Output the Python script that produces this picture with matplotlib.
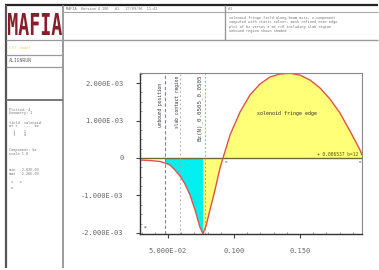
import matplotlib
matplotlib.use("Agg")
import matplotlib.pyplot as plt
from matplotlib.textpath import TextPath
from matplotlib.patches import PathPatch
from matplotlib.font_manager import FontProperties
from matplotlib.transforms import Affine2D
from matplotlib.ticker import MultipleLocator, FixedLocator

# curve (position, field value)
xs = [0.0288, 0.0364, 0.0440, 0.0477, 0.0515, 0.0553, 0.0591, 0.0629, 0.0667,
      0.0705, 0.0742, 0.0765, 0.0788, 0.0818, 0.0856, 0.0894, 0.0917, 0.0970,
      0.1046, 0.1121, 0.1197, 0.1273, 0.1349, 0.1424, 0.1500, 0.1576, 0.1652,
      0.1727, 0.1803, 0.1879, 0.1955, 0.1970]
ys = [-0.053e-3, -0.067e-3, -0.093e-3, -0.133e-3, -0.187e-3, -0.32e-3, -0.48e-3,
      -0.693e-3, -0.987e-3, -1.387e-3, -1.84e-3, -2.02e-3, -1.81e-3, -1.387e-3,
      -0.853e-3, -0.267e-3, 0.0, 0.613e-3, 1.227e-3, 1.68e-3, 1.973e-3, 2.16e-3,
      2.24e-3, 2.26e-3, 2.21e-3, 2.08e-3, 1.867e-3, 1.573e-3, 1.2e-3, 0.72e-3,
      0.213e-3, 0.08e-3]

unbound_pos = 0.0477
min_pos = 0.0765
marker_lines = [0.0591, 0.0780]

xticks = [0.05, 0.10, 0.15]
xtick_labels = ["5.000E-02", "0.100", "0.150"]
yticks = [-2e-3, -1e-3, 0.0, 1e-3, 2e-3]
ytick_labels = ["-2.000E-03", "-1.000E-03", "0", "1.000E-03", "2.000E-03"]

W, H = 379, 270
fig = plt.figure(figsize=(W / 100, H / 100), dpi=100)

# page frame (pixel coordinates)
bg = fig.add_axes([0, 0, 1, 1])
bg.set_xlim(0, W)
bg.set_ylim(H, 0)
bg.axis("off")

def seg(x0, y0, x1, y1, c="#999999", lw=0.8):
    bg.plot([x0, x1], [y0, y1], color=c, lw=lw, solid_capstyle="butt")

seg(5, 5, 378, 5, "#222222", 1.6)
seg(6, 5, 6, 268, "#555555", 1.6)
seg(63, 5, 63, 268, "#8a8a8a", 1.2)
seg(63, 12, 378, 12, "#aaaaaa", 0.8)
seg(63, 40, 378, 40, "#999999", 1.0)
seg(225, 5, 225, 40, "#999999", 1.0)
seg(6, 40, 63, 40, "#999999", 0.9)
seg(6, 55, 63, 55, "#999999", 0.9)
seg(6, 67, 63, 67, "#999999", 0.9)
seg(6, 100, 63, 100, "#777777", 1.4)

# logo
tp = TextPath((0, 0), "MAFIA", size=1,
              prop=FontProperties(family="DejaVu Sans Mono", weight="bold"))
ext = tp.get_extents()
tr = (Affine2D().translate(-ext.x0, -ext.y0)
      .scale(54 / ext.width, -22 / ext.height).translate(8, 35))
bg.add_patch(PathPatch(tr.transform_path(tp), fc="#8b1c2c", ec="none"))

tiny = dict(fontsize=2.6, color="#777777", family="DejaVu Sans Mono", va="center")
bg.text(9, 48, "CST GmbH", fontsize=3.2, color="#e6dc6a",
        family="DejaVu Sans Mono", va="center")
bg.text(9, 61, "ALIGNRUN", fontsize=3.4, color="#666666",
        family="DejaVu Sans Mono", va="center")
left_notes = [(110, "Plotted: 4"), (113, "Geometry: 1"), (123, "field  solenoid"),
              (126, "at x   ...  bz"), (132, "  1    2"), (135, "  3    4"),
              (150, "Component: bz"), (154, "scale 1.0"), (170, "min  -2.02E-03"),
              (174, "max   2.26E-03"), (182, " s   x"), (188, " n")]
for yy, s in left_notes:
    bg.text(9, yy, s, **tiny)
bg.text(66, 8.5, "MAFIA  Version 4.106   #1   27/09/96  11:42", **tiny)
bg.text(228, 8.5, "#1", **tiny)
for i, s in enumerate(["solenoid fringe field along beam axis, z-component",
                       "computed with static solver, mesh refined near edge",
                       "plot of bz versus z at r=0 including slab region",
                       "unbound region shown shaded"]):
    bg.text(229, 18 + 4.3 * i, s, **tiny)

# main plot
ax = fig.add_axes([140 / W, 1 - 234 / H, 222 / W, 161 / H])
ax.set_xlim(0.0288, 0.1970)
ax.set_ylim(-2.027e-3, 2.267e-3)

xc = [x for x in xs if unbound_pos <= x <= min_pos]
yc = [y for x, y in zip(xs, ys) if unbound_pos <= x <= min_pos]
ax.fill_between(xc, yc, 0, color="#00f0f0", lw=0)
xy = [x for x in xs if x >= min_pos]
yy_ = [y for x, y in zip(xs, ys) if x >= min_pos]
ax.fill_between(xy, yy_, 0, color="#ffff78", lw=0)

ax.axhline(0, color="#6b6b3a", lw=1.0)
ax.axvline(unbound_pos, color="#8080a0", lw=0.8, ls=(0, (3, 2)))
ax.axvline(marker_lines[0], color="#a0a0a0", lw=0.6, ls=(0, (2, 3)))
ax.axvline(marker_lines[1], color="#e0a040", lw=0.7, ls=(0, (2, 2)))
ax.plot(xs, ys, color="#e2504a", lw=1.0)

rot = dict(rotation=90, fontsize=3.3, color="#333333", family="DejaVu Sans Mono",
           ha="center", va="top")
ax.text(unbound_pos - 0.0035, 2.0e-3, "unbound position", **rot)
ax.text(marker_lines[0] - 0.0020, 2.2e-3, "slab contact region", **rot)
ax.text(0.0742, 2.22e-3, "Bz(N)_0.0505_0.0505", rotation=90, fontsize=4.2,
        color="#444444", family="DejaVu Sans Mono", ha="center", va="top")
ax.text(0.140, 1.2e-3, "solenoid fringe edge", fontsize=3.6, color="#333333",
        family="DejaVu Sans Mono", ha="center", va="center")
ax.text(0.194, 0.1e-3, "+ 0.006537 b=12", fontsize=3.3, color="#555500",
        family="DejaVu Sans Mono", ha="right", va="center")
ax.text(0.0940, -0.12e-3, "o", fontsize=3, color="#555555", ha="center", va="center")
ax.text(0.1955, -0.12e-3, "o", fontsize=3, color="#555555", ha="center", va="center")
ax.text(0.0330, -1.87e-3, "*", fontsize=4, color="#333333", ha="center", va="center")

ax.xaxis.set_major_locator(FixedLocator(xticks))
ax.set_xticklabels(xtick_labels)
ax.yaxis.set_major_locator(FixedLocator(yticks))
ax.set_yticklabels(ytick_labels)
ax.xaxis.set_minor_locator(MultipleLocator(0.01))
ax.yaxis.set_minor_locator(MultipleLocator(0.25e-3))
ax.tick_params(which="major", direction="out", length=3, width=0.8,
               color="#444444", labelsize=5, labelcolor="#666666", pad=9)
ax.tick_params(axis="x", which="major", pad=7)
ax.tick_params(which="minor", direction="in", length=1.5, width=0.5, color="#777777")
for lab in ax.get_xticklabels() + ax.get_yticklabels():
    lab.set_family("DejaVu Sans Mono")
for side in ["top", "right"]:
    ax.spines[side].set_color("#888888")
    ax.spines[side].set_linewidth(0.8)
for side in ["left", "bottom"]:
    ax.spines[side].set_color("#333333")
    ax.spines[side].set_linewidth(1.0)

fig.savefig("out.png", dpi=100)
